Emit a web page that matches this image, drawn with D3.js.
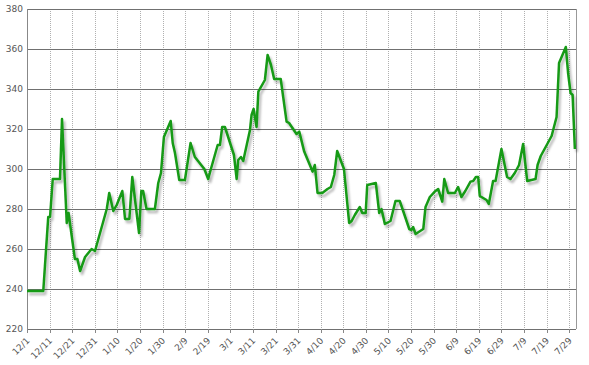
<!DOCTYPE html>
<html>
<head>
<meta charset="utf-8">
<script src="https://cdn.jsdelivr.net/npm/d3@7"></script>
<style>
  body { margin: 0; background: #fff; }
  svg { display: block; font-family: Verdana, "DejaVu Sans", sans-serif; }
</style>
</head>
<body>
<div id="chart"></div>
<script>
// days since 12/1
var days = [0, 7.2, 9.4, 10.2, 11.4, 14.6, 15.5, 17.6, 18.4, 21.2, 22.3, 23.5, 25.7, 28.6, 30.1,
    35.3, 36.4, 38.2, 39.7, 42.2, 43.4, 45.3, 46.6, 49.6, 50.6, 51.4, 52.9, 56.6, 58.1, 59.3,
    60.6, 63.6, 64.5, 65.5, 67.4, 69.9, 72.4, 74.3, 78.5, 80.2, 81.4, 84.4, 85.4, 86.4, 87.6,
    91.6, 92.8, 93.5, 94.7, 95.7, 98.7, 99.4, 100.3, 101.6, 102.4, 105.3, 106.5, 108, 109.4,
    112.3, 114.9, 116, 119.3, 120.5, 122.7, 126.4, 127.4, 128.6, 130.7, 133, 134.5, 136,
    137.3, 140.3, 142.6, 143.7, 145.1, 147.3, 148.4, 149.9, 150.6, 154.4, 155.9, 156.9,
    158.4, 160.9, 163.1, 165, 169.2, 170.2, 170.9, 172, 175.4, 176.4, 178.3, 180.5, 182,
    183.8, 184.7, 186.4, 189.4, 190.8, 192.3, 194, 196.3, 197.5, 198.7, 199.7, 200.4, 203.4,
    204.4, 206.3, 207.4, 210, 212.5, 214, 215.9, 217.8, 219.6, 221.4, 225.1, 226, 227.4,
    232.2, 234.4, 235.5, 238.5, 239.5, 240.6, 241.5, 242.5];
var prices = [239, 239, 276, 276, 295, 295, 325, 273, 278, 255, 255, 249, 256, 260, 259,
    280, 288, 279, 282, 289, 275, 275, 296, 268, 289, 289, 280, 280, 293, 298,
    316, 324, 313, 308, 294.5, 294.5, 313, 306, 300, 295, 300, 312, 312, 321, 321,
    307, 295, 304.5, 306, 304, 319.5, 327, 330, 321, 338.7, 344.5, 357, 352, 345,
    345, 323.7, 323, 317.5, 318.7, 308.7, 298.7, 302, 288, 288, 290, 291, 297,
    309, 300, 273, 274, 277, 281, 278, 278, 292, 293, 278, 280,
    272.5, 274, 284, 284, 270, 269.5, 271, 267.5, 270, 281, 286, 288.7, 290,
    283.7, 295, 288, 288, 291, 286, 289, 293.7, 294, 296, 296, 286.5, 284.5,
    282.5, 294, 294, 310, 296, 295, 298, 302, 312.5, 294, 295, 302, 306.5,
    316.5, 326, 353, 361, 348, 338, 337, 310];

var tickLabels = ['12/1', '12/11', '12/21', '12/31', '1/10', '1/20', '1/30', '2/9', '2/19',
    '3/1', '3/11', '3/21', '3/31', '4/10', '4/20', '4/30', '5/10', '5/20', '5/30',
    '6/9', '6/19', '6/29', '7/9', '7/19', '7/29'];
var yTicks = [220, 240, 260, 280, 300, 320, 340, 360, 380];

var W = 589, H = 365;
var pLeft = 27, pRight = 576, pTop = 9, pBottom = 329;

var svg = d3.select('#chart').append('svg')
    .attr('width', W).attr('height', H);

var x = d3.scaleLinear().domain([0, 243]).range([pLeft, pRight]);
var y = d3.scaleLinear().domain([220, 380]).range([pBottom, pTop]);

var defs = svg.append('defs');
var f = defs.append('filter').attr('id', 'shadow')
    .attr('x', '-5%').attr('y', '-5%').attr('width', '110%').attr('height', '115%');
f.append('feDropShadow')
    .attr('dx', 2).attr('dy', 3).attr('stdDeviation', 1.2)
    .attr('flood-color', '#000').attr('flood-opacity', 0.28);

// vertical dotted grid
svg.append('g').selectAll('line')
    .data(tickLabels.slice(1))
    .enter().append('line')
    .attr('x1', function(d, i) { return Math.round(x((i + 1) * 10)) + 0.5; })
    .attr('x2', function(d, i) { return Math.round(x((i + 1) * 10)) + 0.5; })
    .attr('y1', pTop).attr('y2', pBottom)
    .style('stroke', '#b0b0b0')
    .style('stroke-dasharray', '1,1');

// horizontal grid
svg.append('g').selectAll('line')
    .data(yTicks)
    .enter().append('line')
    .attr('x1', pLeft).attr('x2', pRight)
    .attr('y1', function(d) { return Math.round(y(d)) + 0.5; })
    .attr('y2', function(d) { return Math.round(y(d)) + 0.5; })
    .style('stroke', '#707070')
    .style('stroke-width', 1.2);

// frame
svg.append('line').attr('x1', pLeft + 0.5).attr('x2', pLeft + 0.5)
    .attr('y1', pTop).attr('y2', pBottom + 4).style('stroke', '#888');
svg.append('line').attr('x1', pRight + 0.5).attr('x2', pRight + 0.5)
    .attr('y1', pTop).attr('y2', pBottom).style('stroke', '#999');

// small ticks under the axis
svg.append('g').selectAll('line')
    .data(tickLabels)
    .enter().append('line')
    .attr('x1', function(d, i) { return Math.round(x(i * 10)) + 0.5; })
    .attr('x2', function(d, i) { return Math.round(x(i * 10)) + 0.5; })
    .attr('y1', pBottom).attr('y2', pBottom + 4)
    .style('stroke', '#888');

// y labels
svg.append('g').selectAll('text')
    .data(yTicks)
    .enter().append('text')
    .attr('x', pLeft - 4)
    .attr('y', function(d) { return y(d); })
    .attr('dy', '0.35em')
    .attr('text-anchor', 'end')
    .style('font-size', '9px')
    .style('fill', '#555')
    .text(function(d) { return d; });

// x labels
svg.append('g').selectAll('text')
    .data(tickLabels)
    .enter().append('text')
    .attr('transform', function(d, i) {
        return 'translate(' + (x(i * 10) + 1) + ',' + (pBottom + 10) + ') rotate(-45)';
    })
    .attr('text-anchor', 'end')
    .attr('dy', '0.35em')
    .style('font-size', '9px')
    .style('fill', '#555')
    .text(function(d) { return d; });

// price line
var pts = days.map(function(d, i) { return [d, prices[i]]; });
svg.append('path')
    .datum(pts)
    .attr('d', d3.line()
        .x(function(p) { return x(p[0]); })
        .y(function(p) { return y(p[1]); }))
    .attr('filter', 'url(#shadow)')
    .style('fill', 'none')
    .style('stroke', '#159a15')
    .style('stroke-width', 2.5)
    .style('stroke-linejoin', 'round');
</script>
</body>
</html>
